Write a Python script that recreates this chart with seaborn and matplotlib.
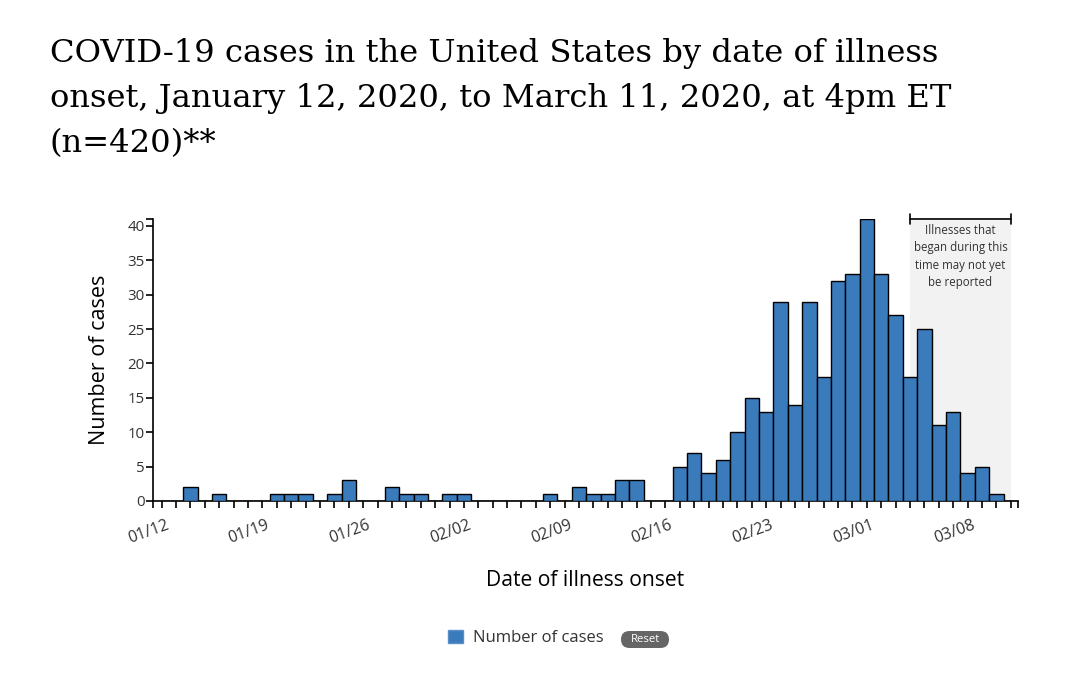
import numpy as np
import pandas as pd
import matplotlib.pyplot as plt
import matplotlib.transforms as mtransforms
from matplotlib.patches import Patch, FancyBboxPatch
import seaborn as sns

# daily counts, 01/12 .. 03/11
onset_dates = pd.date_range('2020-01-12', '2020-03-11', freq='D')
cases = [0, 0, 2, 0, 1, 0, 0, 0, 1, 1, 1, 0, 1, 3, 0, 0, 2, 1, 1, 0,
         1, 1, 0, 0, 0, 0, 0, 1, 0, 2, 1, 1, 3, 3, 0, 0, 5, 7, 4, 6,
         10, 15, 13, 29, 14, 29, 18, 32, 33,
         41, 33, 27, 18, 25, 11, 13, 4, 5, 1, 0]
date_labels = onset_dates.strftime('%m/%d')
label_every = 7
lag_start, lag_end = '03/04', '03/11'
lag_note = 'Illnesses that\nbegan during this\ntime may not yet\nbe reported'

title = ('COVID-19 cases in the United States by date of illness\n'
         'onset, January 12, 2020, to March 11, 2020, at 4pm ET\n'
         '(n=420)**')

bar_color = '#3a7bbc'
text_color = '#333333'

df = pd.DataFrame({'date': date_labels, 'cases': cases})

sns.set_style('ticks')
plt.rcParams['font.family'] = ['Open Sans', 'DejaVu Sans']

fig = plt.figure(figsize=(10.8, 6.75), dpi=100)
ax = fig.add_axes([0.1417, 0.2578, 0.8009, 0.4178])

sns.barplot(data=df, x='date', y='cases', color=bar_color, saturation=1,
            width=1.0, edgecolor='black', linewidth=1.0, ax=ax, zorder=3)

i0 = list(date_labels).index(lag_start)
i1 = list(date_labels).index(lag_end)
ax.axvspan(i0, i1, color='#f2f2f2', zorder=0, lw=0)
ax.annotate('', xy=(i0, 41), xytext=(i1, 41),
            arrowprops=dict(arrowstyle='|-|, widthA=0.35, widthB=0.35',
                            color='black', lw=1.2, shrinkA=0, shrinkB=0),
            annotation_clip=False, zorder=5)
ax.text((i0 + i1) / 2, 40.3, lag_note, ha='center', va='top',
        fontsize=8.3, color=text_color, linespacing=1.45, zorder=5)

ax.set_xlim(-0.6, 59.5)
ax.set_ylim(0, 41)
ax.set_yticks(np.arange(0, 41, 5))
ax.set_yticks([41], minor=True)
ax.set_xticks(np.arange(len(date_labels)))
ax.set_xticklabels([d if i % label_every == 0 else '' for i, d in enumerate(date_labels)],
                   rotation=20, ha='right', rotation_mode='anchor')
ax.set_xticks([-0.6, 59.5], minor=True)
ax.tick_params(axis='x', which='both', direction='out', length=5, width=1.2,
               colors='black', labelcolor=text_color, labelsize=11.5, pad=7)
ax.tick_params(axis='y', which='both', direction='out', length=5, width=1.2,
               colors='black', labelcolor=text_color, labelsize=10.8, pad=1)
shift = mtransforms.ScaledTranslation(4 / 100, 0, fig.dpi_scale_trans)
for lab in ax.get_xticklabels():
    lab.set_transform(lab.get_transform() + shift)
sns.despine(ax=ax)
for s in ('left', 'bottom'):
    ax.spines[s].set_linewidth(1.2)
    ax.spines[s].set_color('black')

ax.set_ylabel('Number of cases', fontsize=15.5, color='black')
ax.yaxis.set_label_coords(-0.05, 0.5)
ax.set_xlabel('Date of illness onset', fontsize=15.2, color='black')
ax.xaxis.set_label_coords(0.5, -0.245)

fig.text(50 / 1080, 1 - 38 / 675, title, ha='left', va='top',
         fontsize=23.2, family='DejaVu Serif', color='black', linespacing=1.58)

fig.legend(handles=[Patch(facecolor=bar_color, edgecolor='#5a8fc8')],
           labels=['Number of cases'], loc='center',
           bbox_to_anchor=(0.487, 0.055), frameon=False, fontsize=12,
           handlelength=0.9, handleheight=0.9, handletextpad=0.6,
           labelcolor=text_color)

# grey "Reset" pill next to the legend
fig.patches.append(FancyBboxPatch((6.21, 0.27), 0.48, 0.17,
                                  boxstyle='round,pad=0,rounding_size=0.085',
                                  transform=fig.dpi_scale_trans,
                                  fc='#666666', ec='none'))
fig.text(645 / 1080, 1 - 640 / 675, 'Reset', ha='center', va='center',
         fontsize=8.2, color='white')

fig.savefig('out.png', dpi=100)
plt.close(fig)
